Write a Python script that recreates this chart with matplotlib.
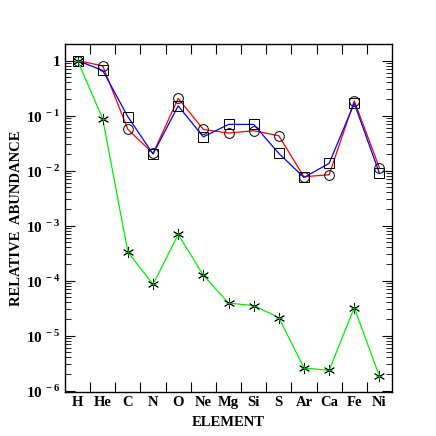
import matplotlib

matplotlib.use("Agg")
import matplotlib.pyplot as plt
from matplotlib.ticker import FixedLocator, LogLocator, NullFormatter

plt.rcParams["font.family"] = ["Liberation Serif", "DejaVu Serif"]
plt.rcParams["font.weight"] = "bold"
plt.rcParams["mathtext.fontset"] = "custom"
plt.rcParams["mathtext.rm"] = "Liberation Serif:bold"
plt.rcParams["mathtext.bf"] = "Liberation Serif:bold"

elements = ["H", "He", "C", "N", "O", "Ne", "Mg", "Si", "S", "Ar", "Ca", "Fe", "Ni"]

# red line, open circles
red_circles = [1.0, 0.80, 0.056, 0.0205, 0.205, 0.056, 0.048, 0.053, 0.043,
               0.0077, 0.0084, 0.185, 0.0112]
# blue line, open squares
blue_squares = [1.0, 0.66, 0.095, 0.020, 0.15, 0.041, 0.069, 0.069, 0.0205,
                0.0075, 0.0135, 0.167, 0.0089]
# green line, asterisks
green_stars = [1.0, 0.087, 3.3e-4, 8.5e-5, 6.9e-4, 1.25e-4, 3.9e-5, 3.5e-5,
               2.12e-5, 2.57e-6, 2.33e-6, 3.2e-5, 1.82e-6]

decades = [1e-6, 1e-5, 1e-4, 1e-3, 1e-2, 1e-1, 1.0]
decade_labels = [r"$10^{\,-6}$", r"$10^{\,-5}$", r"$10^{\,-4}$", r"$10^{\,-3}$",
                 r"$10^{\,-2}$", r"$10^{\,-1}$", "1"]

x = list(range(len(elements)))

fig = plt.figure(figsize=(4.36, 4.36), dpi=100)
ax = fig.add_axes([65 / 436, 1 - 392 / 436, 327 / 436, 348 / 436])

ax.plot(x, red_circles, color="red", lw=0.9, marker="o", ms=7,
        mfc="none", mec="black", mew=0.7)
ax.plot(x, blue_squares, color="blue", lw=0.9, marker="s", ms=7,
        mfc="none", mec="black", mew=0.7)
ax.plot(x, green_stars, color="#00ee00", lw=0.9, linestyle="-")
ax.plot(x, green_stars, linestyle="none", marker=(6, 2, 0), ms=8,
        mec="black", mew=0.6)
ax.plot(x, green_stars, linestyle="none", marker="+", ms=5,
        mec="#00aa00", mew=0.6)

ax.set_yscale("log")
ax.set_ylim(0.94e-6, 2.0)
ax.set_xlim(-0.5, len(elements) - 0.5)

ax.yaxis.set_major_locator(FixedLocator(decades))
ax.set_yticklabels(decade_labels)
ax.yaxis.set_minor_locator(LogLocator(base=10, subs=range(2, 10), numticks=20))
ax.yaxis.set_minor_formatter(NullFormatter())

ax.set_xticks(x)
ax.set_xticklabels(elements)
ax.xaxis.set_minor_locator(FixedLocator([i + 0.5 for i in x[:-1]]))
ax.tick_params(axis="x", which="major", length=0, pad=3, labelsize=10.5)
ax.tick_params(axis="x", which="minor", direction="in", length=7, width=0.8,
               top=True, bottom=True)
ax.tick_params(axis="y", which="major", direction="in", length=7, width=0.8,
               left=True, right=True, labelsize=11, pad=3)
ax.tick_params(axis="y", which="minor", direction="in", length=4, width=0.6,
               left=True, right=True)

for s in ax.spines.values():
    s.set_linewidth(1.0)

ax.set_xlabel("ELEMENT", fontsize=10.5, fontweight="bold", labelpad=5)
ax.set_ylabel("RELATIVE  ABUNDANCE", fontsize=10.5, fontweight="bold")
ax.yaxis.set_label_coords(-0.128, 0.5)

fig.savefig("out.png", dpi=100)
